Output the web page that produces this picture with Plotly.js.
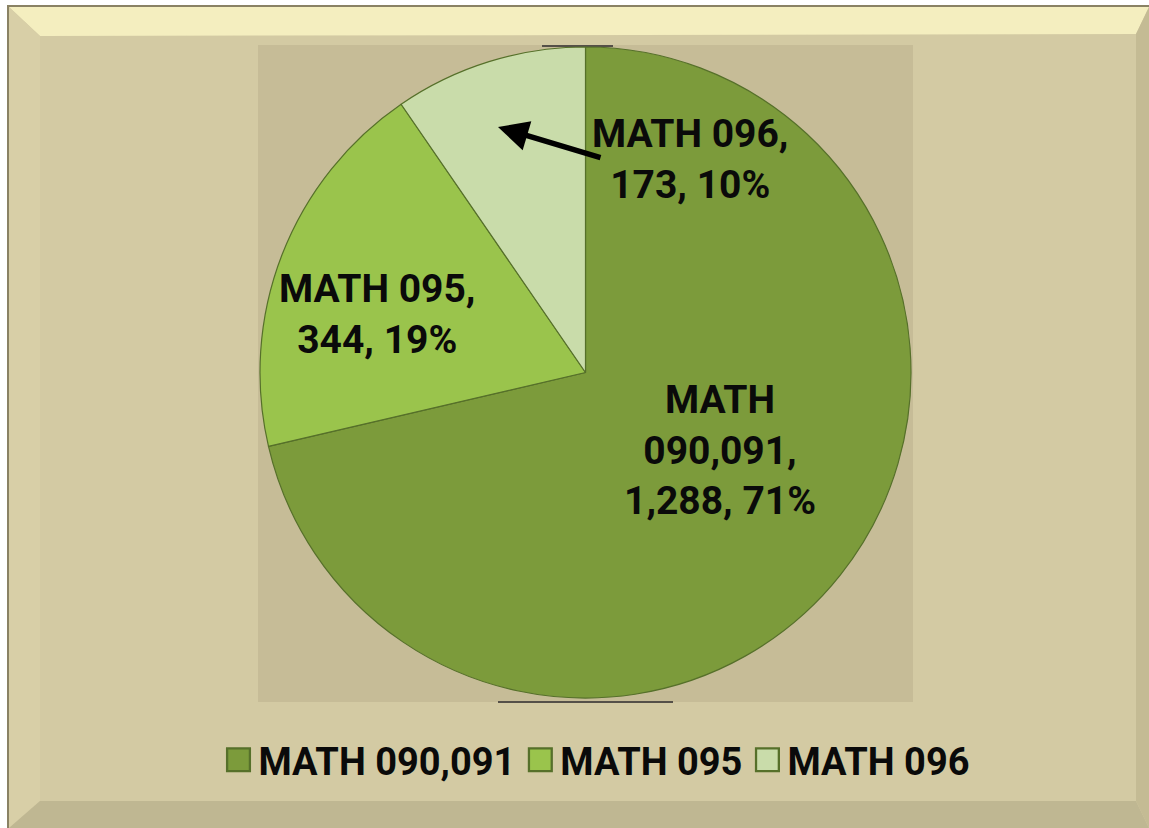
<!DOCTYPE html>
<html>
<head>
<meta charset="utf-8">
<script src="https://cdn.plot.ly/plotly-3.0.1.min.js"></script>
<style>
  html, body { margin: 0; padding: 0; background: #ffffff; }
  #chart { width: 1149px; height: 828px; }
</style>
</head>
<body>
<div id="chart"></div>
<script>
// ---- data ----
const labels = ['MATH 090,091', 'MATH 095', 'MATH 096'];
const values = [1288, 344, 173];
const wrappedLabels = ['MATH<br>090,091', 'MATH 095', 'MATH 096'];
const sliceColors = ['#7c9b3b', '#9ac44c', '#c9dcaa'];

const W = 1149, H = 828;
const px = x => x / W;
const py = y => 1 - y / H;

const total = values.reduce((a, b) => a + b, 0);
const labelText = values.map((v, i) =>
  wrappedLabels[i] + ',<br>' + v.toLocaleString('en-US') + ', ' + Math.round(v / total * 100) + '%');

// label anchor positions (pixels)
const labelPos = [[720, 450], [377, 314], [690, 160]];

const font = 'Roboto, "Open Sans", "DejaVu Sans", sans-serif';

const annotations = labelText.map((t, i) => ({
  xref: 'paper', yref: 'paper',
  x: px(labelPos[i][0]), y: py(labelPos[i][1]),
  xanchor: 'center', yanchor: 'middle',
  text: '<b>' + t + '</b>', showarrow: false, align: 'center',
  font: { family: font, size: 39, color: '#0a0a0a' }
}));
// arrow from MATH 096 label into its slice
annotations.push({
  xref: 'paper', yref: 'paper', x: px(498), y: py(127),
  ax: 104, ay: 31, text: '', showarrow: true,
  arrowhead: 2, arrowsize: 1.1, arrowwidth: 5.5, arrowcolor: '#000000'
});

function rect(x0, y0, x1, y1, color) {
  return { type: 'rect', xref: 'paper', yref: 'paper', layer: 'below',
    x0: px(x0), x1: px(x1), y0: py(y1), y1: py(y0),
    fillcolor: color, line: { width: 0 } };
}
function poly(pts, color) {
  const d = pts.map((p, i) => (i ? 'L' : 'M') + px(p[0]) + ',' + py(p[1])).join(' ') + ' Z';
  return { type: 'path', xref: 'paper', yref: 'paper', layer: 'below',
    path: d, fillcolor: color, line: { width: 0 } };
}
function seg(x0, y0, x1, y1, color, w) {
  return { type: 'line', xref: 'paper', yref: 'paper', layer: 'below',
    x0: px(x0), x1: px(x1), y0: py(y0), y1: py(y1),
    line: { color: color, width: w } };
}

const shapes = [
  rect(7, 5, 1149, 828, '#8a8264'),
  rect(9, 7, 1149, 828, '#d3caa3'),
  poly([[9, 7], [1149, 7], [1136, 34], [40, 36]], '#f4eebf'),
  poly([[9, 7], [40, 36], [40, 801], [9, 828]], '#d8cfa7'),
  poly([[9, 828], [40, 801], [1136, 801], [1149, 828]], '#bfb792'),
  poly([[1149, 7], [1136, 34], [1136, 801], [1149, 828]], '#c4bb94'),
  rect(258, 45, 913, 702, '#c6bc97'),
  seg(498, 702, 673, 702, '#555048', 2),
  seg(542, 46, 613, 46, '#555048', 2)
];

const trace = {
  type: 'pie',
  labels: labels,
  values: values,
  sort: false,
  direction: 'clockwise',
  rotation: 0,
  textinfo: 'none',
  hoverinfo: 'label+value+percent',
  marker: { colors: sliceColors, line: { color: '#56702a', width: 1.2 } },
  domain: { x: [px(259), px(912)], y: [py(698), py(47)] }
};

const layout = {
  width: W, height: H,
  margin: { l: 0, r: 0, t: 0, b: 0 },
  paper_bgcolor: '#ffffff',
  plot_bgcolor: 'rgba(0,0,0,0)',
  showlegend: true,
  legend: {
    orientation: 'h', x: px(597), xanchor: 'center', y: py(760), yanchor: 'middle',
    bgcolor: 'rgba(0,0,0,0)', traceorder: 'normal',
    font: { family: font, size: 38, color: '#0a0a0a', weight: 'bold' },
    itemclick: false, itemdoubleclick: false
  },
  shapes: shapes,
  annotations: annotations
};

Plotly.newPlot('chart', [trace], layout, { displayModeBar: false, staticPlot: true }).then(() => {
  document.querySelectorAll('.legendpoints path').forEach(p => {
    const t = p.getAttribute('transform') || '';
    p.setAttribute('transform', t + ' scale(1.9)');
  });
});
</script>
</body>
</html>
